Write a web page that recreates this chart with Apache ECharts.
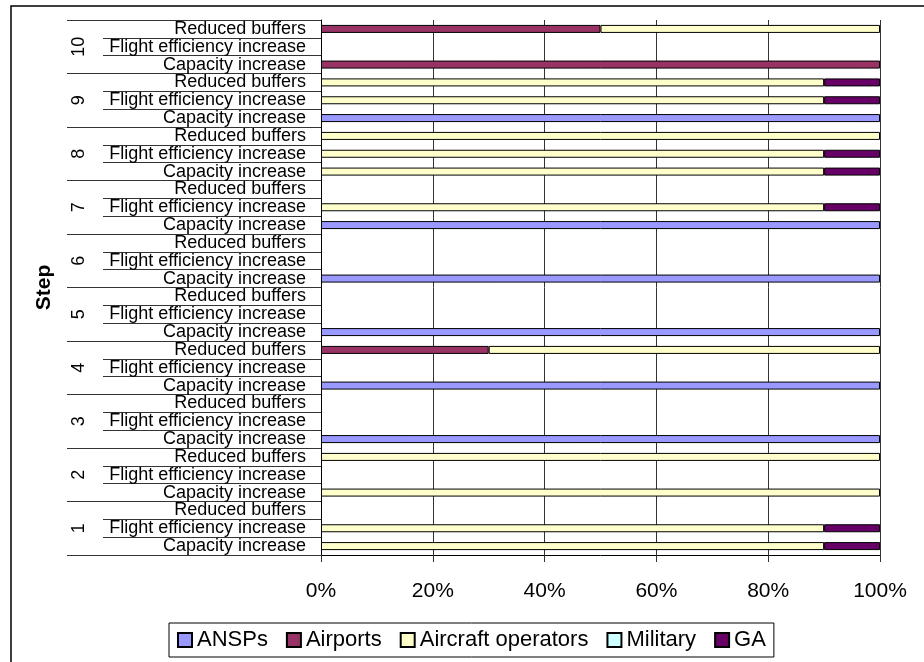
<!DOCTYPE html>
<html>
<head>
<meta charset="utf-8">
<script src="https://cdn.jsdelivr.net/npm/echarts@6/dist/echarts.min.js"></script>
<style>
html,body{margin:0;padding:0;background:#fff;}
#chart{width:924px;height:662px;}
</style>
</head>
<body>
<div id="chart"></div>
<script>
// Categories (bottom to top)
const steps = ['1','2','3','4','5','6','7','8','9','10'];
const subCats = ['Capacity increase','Flight efficiency increase','Reduced buffers'];
const xTicks = [0,20,40,60,80,100];
const seriesNames = ['ANSPs','Airports','Aircraft operators','Military','GA'];
// Values in %, ordered step 1..10, each [Capacity, Flight eff., Reduced buffers]
const ansps    = [0,0,0,  0,0,0,  100,0,0, 100,0,0, 100,0,0, 100,0,0, 100,0,0, 0,0,0,    100,0,0, 0,0,0];
const airports = [0,0,0,  0,0,0,  0,0,0,   0,0,30,  0,0,0,   0,0,0,   0,0,0,   0,0,0,    0,0,0,   100,0,50];
const aircraftOps = [90,90,0, 100,0,100, 0,0,0, 0,0,70, 0,0,0, 0,0,0, 0,90,0, 90,90,100, 0,90,90, 0,0,50];
const military = [0,0,0,  0,0,0,  0,0,0,   0,0,0,   0,0,0,   0,0,0,   0,0,0,   0,0,0,    0,0,0,   0,0,0];
const ga       = [10,10,0, 0,0,0, 0,0,0,   0,0,0,   0,0,0,   0,0,0,   0,10,0,  10,10,0,  0,10,10, 0,0,0];
const colors = ['#9999FF','#993366','#FFFFCC','#CCFFFF','#660066'];

const catKeys = [];
steps.forEach(s => subCats.forEach(c => catKeys.push(s + '|' + c)));
const allData = [ansps, airports, aircraftOps, military, ga];
const font = 'Arial, "Liberation Sans", sans-serif';

const chart = echarts.init(document.getElementById('chart'), null, {renderer:'canvas'});
chart.setOption({
  animation: false,
  backgroundColor: '#fff',
  grid: {left: 321, right: 44, top: 20, bottom: 107, containLabel: false},
  xAxis: {
    type: 'value', min: xTicks[0], max: xTicks[xTicks.length - 1], interval: 20,
    axisLine: {show: true, lineStyle: {color: '#000', width: 1}},
    axisTick: {show: true, length: 7, lineStyle: {color: '#333'}},
    axisLabel: {formatter: v => v + '%', fontSize: 21, color: '#000', fontFamily: font, margin: 26},
    splitLine: {show: true, lineStyle: {color: '#333', width: 1}}
  },
  yAxis: [{
    type: 'category',
    data: catKeys,
    axisLine: {show: true, lineStyle: {color: '#000'}},
    axisTick: {show: true, length: 218, interval: 0, lineStyle: {color: '#333'}},
    axisLabel: {interval: 0, fontSize: 18, color: '#000', fontFamily: font, margin: 15,
      formatter: v => v.split('|')[1]},
    splitLine: {show: false}
  }, {
    type: 'category',
    data: steps,
    position: 'left',
    axisLine: {show: false},
    axisTick: {show: true, length: 254, interval: 0, lineStyle: {color: '#333'}},
    axisLabel: {interval: 0, rotate: 90, fontSize: 18, color: '#000', fontFamily: font, margin: 233},
    name: 'Step', nameLocation: 'middle', nameRotate: 90, nameGap: 266,
    nameTextStyle: {fontSize: 21, fontWeight: 'bold', color: '#000', fontFamily: font},
    splitLine: {show: false}
  }],
  legend: {
    data: seriesNames,
    left: 169, top: 623,
    orient: 'horizontal',
    icon: 'rect', itemWidth: 14, itemHeight: 14, itemGap: 18,
    padding: [6, 8, 6, 8],
    borderColor: '#000', borderWidth: 1,
    textStyle: {fontSize: 22, color: '#000', fontFamily: font}
  },
  graphic: [{
    type: 'rect', silent: true, z: -1,
    shape: {x: 11, y: 6, width: 940, height: 700},
    style: {fill: null, stroke: '#000', lineWidth: 1.5}
  }],
  series: seriesNames.map((n, i) => ({
    name: n, type: 'bar', stack: 'total', yAxisIndex: 0,
    barWidth: 8,
    itemStyle: {color: colors[i], borderColor: '#000', borderWidth: 1},
    data: allData[i].map(v => v === 0 ? '-' : v)
  }))
});
</script>
</body>
</html>
